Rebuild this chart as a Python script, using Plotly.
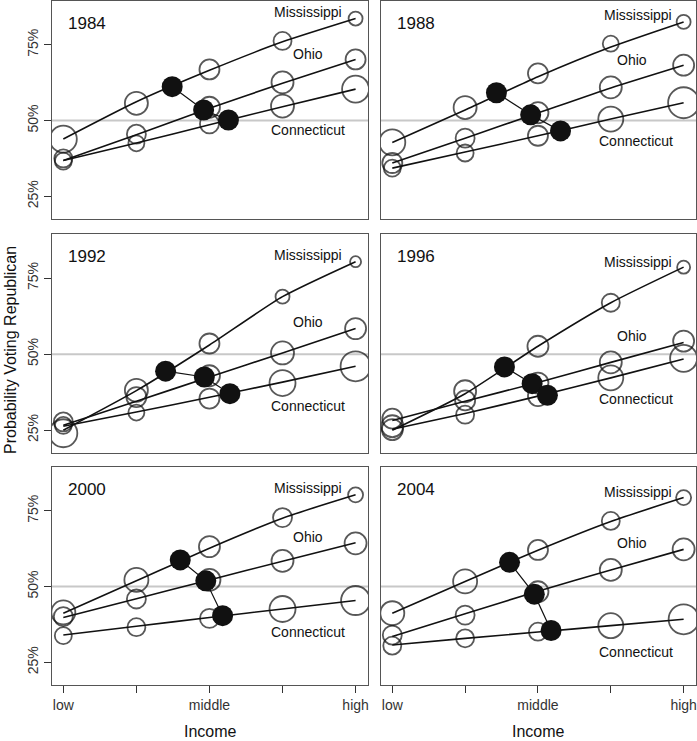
import plotly.graph_objects as go

# ---------------- data ----------------
years = ["1984", "1988", "1992", "1996", "2000", "2004"]
states = ["Mississippi", "Ohio", "Connecticut"]
income_levels = [1, 2, 3, 4, 5]
income_ticklabels = ["low", "", "middle", "", "high"]
y_ticks = [25, 50, 75]
y_ticklabels = ["25%", "50%", "75%"]

# raw estimates (open circles), percent, per year: [Mississippi, Ohio, Connecticut]
circles = {
    "1984": [[43.9, 55.7, 66.9, 76.3, 83.7], [37.5, 45.5, 54.4, 62.6, 70.2], [36.6, 42.5, 48.9, 54.8, 60.4]],
    "1988": [[42.8, 54.3, 65.6, 75.4, 82.6], [36.0, 44.2, 52.6, 61.0, 68.3], [34.3, 39.3, 45.0, 50.5, 55.9]],
    "1992": [[24.0, 38.1, 53.5, 68.9, 80.4], [27.7, 35.9, 42.9, 50.4, 58.4], [26.6, 30.8, 35.4, 40.5, 46.0]],
    "1996": [[25.2, 37.8, 52.6, 66.9, 78.6], [28.8, 34.8, 40.5, 47.3, 54.3], [26.3, 30.1, 36.2, 42.2, 48.6]],
    "2000": [[41.5, 52.2, 63.2, 72.8, 80.3], [40.1, 45.9, 52.2, 58.5, 64.3], [33.8, 36.6, 39.5, 42.6, 45.4]],
    "2004": [[41.2, 51.7, 62.1, 71.7, 79.4], [34.0, 40.6, 48.3, 55.5, 62.3], [30.5, 32.9, 35.1, 37.1, 39.2]],
}

# relative sample sizes of the open circles (marker diameters)
circle_sizes = {
    "1984": [[27, 23, 20, 18, 14], [18, 19, 21, 22, 20], [17, 16, 19, 23, 27]],
    "1988": [[26, 23, 20, 16, 14], [20, 19, 21, 22, 21], [17, 17, 20, 25, 31]],
    "1992": [[28, 23, 20, 14, 11], [19, 20, 21, 23, 21], [17, 16, 20, 26, 30]],
    "1996": [[21, 22, 21, 18, 13], [20, 20, 21, 22, 21], [22, 18, 20, 25, 27]],
    "2000": [[24, 24, 21, 19, 15], [19, 19, 22, 22, 22], [17, 18, 19, 26, 29]],
    "2004": [[24, 24, 20, 18, 15], [19, 19, 21, 22, 22], [18, 18, 18, 25, 30]],
}

# fitted curves at each income level, percent
curves = {
    "1984": [[43.9, 56.2, 66.6, 76.0, 83.7], [36.8, 45.3, 54.1, 62.3, 70.2], [36.8, 42.6, 48.6, 54.6, 60.4]],
    "1988": [[42.8, 53.5, 64.5, 74.3, 82.6], [36.0, 44.2, 52.5, 60.8, 68.3], [34.3, 39.6, 45.0, 50.5, 55.9]],
    "1992": [[25.0, 38.0, 53.0, 68.9, 80.4], [26.6, 34.5, 42.5, 50.4, 58.4], [26.3, 31.0, 35.8, 40.8, 46.0]],
    "1996": [[25.0, 37.0, 52.6, 66.9, 78.6], [28.2, 34.5, 40.7, 47.3, 53.8], [25.3, 30.5, 36.2, 42.2, 48.4]],
    "2000": [[41.2, 51.9, 62.7, 72.6, 80.3], [39.8, 46.0, 52.2, 58.4, 64.5], [34.0, 36.9, 39.8, 42.6, 45.4]],
    "2004": [[41.2, 51.7, 62.0, 71.5, 79.4], [33.5, 41.0, 48.5, 55.5, 62.3], [30.7, 32.9, 35.0, 37.1, 39.2]],
}

# state average income (x) and fitted probability there (y)
avg_x = {
    "1984": [2.49, 2.92, 3.26], "1988": [2.43, 2.90, 3.31], "1992": [2.40, 2.93, 3.28],
    "1996": [2.54, 2.92, 3.13], "2000": [2.60, 2.95, 3.18], "2004": [2.61, 2.95, 3.18],
}
avg_y = {
    "1984": [61.2, 53.5, 50.2], "1988": [59.2, 51.9, 46.6], "1992": [44.4, 42.5, 37.0],
    "1996": [45.8, 40.3, 36.5], "2000": [58.8, 51.9, 40.4], "2004": [58.0, 47.5, 35.5],
}

# ---------------- layout helpers ----------------
W, H = 697, 741
col_px = [(52, 368), (381, 696)]
row_px = [(1, 219), (234, 453), (467, 685)]
font = "Liberation Sans, Arial, Helvetica, sans-serif"
ink = "#111111"

# state label placement (data units)
label_x = {0: [4.35, 4.35, 4.35], 1: [4.37, 4.29, 4.35]}
label_y = {
    "1984": [85.8, 72.1, 46.9], "1988": [85.0, 70.1, 43.1], "1992": [82.6, 60.7, 33.0],
    "1996": [80.4, 55.9, 35.4], "2000": [82.5, 66.5, 35.1], "2004": [81.4, 64.3, 28.5],
}

fig = go.Figure()
layout = dict(
    width=W, height=H, margin=dict(l=0, r=0, t=0, b=0),
    paper_bgcolor="white", plot_bgcolor="white", showlegend=False,
    font=dict(family=font, color=ink),
)
shapes, annotations = [], []

for i, yr in enumerate(years):
    r, c = divmod(i, 2)
    n = "" if i == 0 else str(i + 1)
    xa, ya = "x" + n, "y" + n
    x0, x1 = col_px[c]
    y0, y1 = row_px[r]
    bottom = r == 2
    left = c == 0
    layout["xaxis" + n] = dict(
        domain=[x0 / W, x1 / W], range=[0.845, 5.17], anchor=ya,
        showgrid=False, zeroline=False, showline=True, mirror=True,
        linecolor="#555555", linewidth=1.3,
        tickmode="array", tickvals=income_levels, ticktext=income_ticklabels,
        ticks="outside" if bottom else "", ticklen=7, tickcolor="#333333", tickwidth=1,
        showticklabels=bottom, tickfont=dict(size=14, color="#333333"),
    )
    layout["yaxis" + n] = dict(
        domain=[1 - y1 / H, 1 - y0 / H], range=[17.5, 89.5], anchor=xa,
        showgrid=False, zeroline=False, showline=True, mirror=True,
        linecolor="#555555", linewidth=1.3,
        tickmode="array", tickvals=y_ticks, ticktext=y_ticklabels,
        ticks="outside" if left else "", ticklen=7, tickcolor="#333333", tickwidth=1,
        showticklabels=left, tickangle=-90, tickfont=dict(size=14, color="#333333"),
    )
    shapes.append(dict(type="line", xref=xa + " domain", yref=ya, x0=0, x1=1, y0=50, y1=50,
                       line=dict(color="#c8c8c8", width=2), layer="below"))

    for s in range(3):
        fig.add_trace(go.Scatter(
            x=income_levels, y=curves[yr][s], mode="lines", xaxis=xa, yaxis=ya,
            line=dict(color=ink, width=1.6, shape="spline", smoothing=0.6), hoverinfo="skip"))
    for s in range(3):
        fig.add_trace(go.Scatter(
            x=income_levels, y=circles[yr][s], mode="markers", xaxis=xa, yaxis=ya,
            marker=dict(symbol="circle-open", size=circle_sizes[yr][s], color=ink,
                        line=dict(width=1.8, color=ink))))
    fig.add_trace(go.Scatter(
        x=avg_x[yr], y=avg_y[yr], mode="lines+markers", xaxis=xa, yaxis=ya,
        line=dict(color=ink, width=1.2),
        marker=dict(symbol="circle", size=21, color="#111111", line=dict(width=0))))

    annotations.append(dict(text=yr, x=1.04, y=82.2, xref=xa, yref=ya, xanchor="left",
                            yanchor="middle", showarrow=False, font=dict(size=17, color=ink)))
    for s in range(3):
        annotations.append(dict(text=states[s], x=label_x[c][s], y=label_y[yr][s], xref=xa, yref=ya,
                                xanchor="center", yanchor="middle", showarrow=False,
                                font=dict(size=14, color=ink)))

# axis titles
annotations.append(dict(text="Probability Voting Republican", x=10 / W, y=1 - 350 / H,
                        xref="paper", yref="paper", textangle=-90, showarrow=False,
                        xanchor="center", yanchor="middle", font=dict(size=16, color=ink)))
for c in range(2):
    cx = (col_px[c][0] + col_px[c][1]) / 2 / W
    annotations.append(dict(text="Income", x=cx, y=1 - 731 / H, xref="paper", yref="paper",
                            showarrow=False, xanchor="center", yanchor="middle",
                            font=dict(size=16, color=ink)))

layout["shapes"] = shapes
layout["annotations"] = annotations
fig.update_layout(**layout)
fig.write_html(
    "out.html",
    config={"displayModeBar": False},
    post_script="document.body.style.margin='0';document.body.style.padding='0';",
)
